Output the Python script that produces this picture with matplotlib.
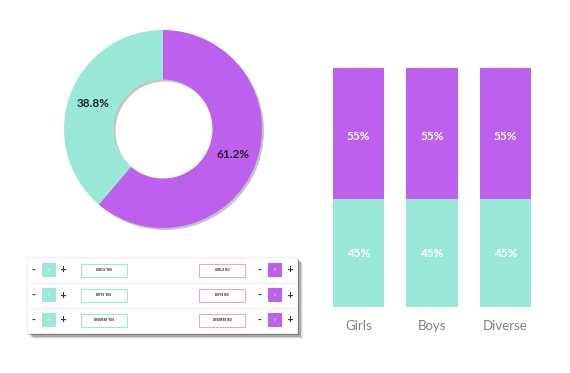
import matplotlib as mpl
mpl.use('Agg')
import matplotlib.pyplot as plt
from matplotlib.patches import Rectangle

# data
pie_labels = ["No", "Yes"]
pie_values = [61.2, 38.8]
categories = ["Girls", "Boys", "Diverse"]
yes_share = [45, 45, 45]
no_share = [55, 55, 55]
row_yes = ["GIRLS YES", "BOYS YES", "DIVERSE YES"]
row_no = ["GIRLS NO", "BOYS NO", "DIVERSE NO"]
row_counts = ["0", "0", "0"]

TEAL = "#99e8d8"
PURPLE = "#be60ee"
W, H = 570, 373

fig = plt.figure(figsize=(5.7, 3.73), dpi=100)
fig.patch.set_facecolor("white")


def px_axes(x0, y0, x1, y1):
    # pixel box (top-left origin) -> figure axes
    return fig.add_axes([x0 / W, 1 - y1 / H, (x1 - x0) / W, (y1 - y0) / H])


# donut (soft shadow first)
cx, cy, r = 163, 129, 99
ax_sh = px_axes(cx - r + 2, cy - r + 2, cx + r + 2, cy + r + 2)
ax_sh.pie(pie_values, startangle=90, counterclock=False,
          colors=["#c4c4c4", "#c4c4c4"], wedgeprops=dict(width=0.5))
ax_sh.set_xlim(-1, 1)
ax_sh.set_ylim(-1, 1)
ax_sh.set_aspect("equal")
ax_sh.patch.set_alpha(0)

ax_pie = px_axes(cx - r, cy - r, cx + r, cy + r)
wedges, texts, autotexts = ax_pie.pie(
    pie_values, startangle=90, counterclock=False, colors=[PURPLE, TEAL],
    autopct="%.1f%%", pctdistance=0.75, wedgeprops=dict(width=0.5),
    textprops=dict(color="#222222", fontsize=8.5, fontweight="bold", family="Lato"))
ax_pie.set_xlim(-1, 1)
ax_pie.set_ylim(-1, 1)
ax_pie.set_aspect("equal")
ax_pie.patch.set_alpha(0)

# stacked bars
ax_bar = px_axes(321.75, 68, 542.25, 307)
x = range(len(categories))
b1 = ax_bar.bar(x, yes_share, width=0.694, color=TEAL)
b2 = ax_bar.bar(x, no_share, width=0.694, bottom=yes_share, color=PURPLE)
for i in x:
    ax_bar.text(i, yes_share[i] / 2, f"{yes_share[i]}%", ha="center", va="center",
                color="white", fontsize=8.5, fontweight="bold", family="Lato")
    ax_bar.text(i, yes_share[i] + no_share[i] / 2 - 1, f"{no_share[i]}%", ha="center",
                va="center", color="white", fontsize=8.5, fontweight="bold", family="Lato")
ax_bar.set_xlim(-0.5, 2.5)
ax_bar.set_ylim(0, 100)
ax_bar.set_xticks(list(x))
ax_bar.set_xticklabels(categories, color="#7a7f8c", fontsize=9.5, family="Lato")
ax_bar.tick_params(axis="x", length=0, pad=9)
ax_bar.set_yticks([])
for s in ax_bar.spines.values():
    s.set_visible(False)
ax_bar.patch.set_alpha(0)

# input table panel
ov = fig.add_axes([0, 0, 1, 1], zorder=-1)
ov.set_xlim(0, W)
ov.set_ylim(H, 0)
ov.axis("off")
for k, a in enumerate([0.08, 0.15, 0.3, 0.5]):
    d = 6 - k * 1.2
    ov.add_patch(Rectangle((27 + d, 257 + d), 270, 76, color="#444444", alpha=a, lw=0))
ov.add_patch(Rectangle((27, 257), 270, 76, facecolor="white", edgecolor="#eeeeee", lw=0.8))

row_y = [270, 295, 320]
for i, yy in enumerate(row_y):
    if i > 0:
        ov.plot([29, 295], [yy - 12.5, yy - 12.5], color="#eeeeee", lw=0.8)
    ov.text(33, yy, "-", ha="center", va="center", fontsize=6, fontweight="bold", color="#333333")
    ov.add_patch(Rectangle((42, yy - 7), 14, 14, color=TEAL, lw=0))
    ov.text(49, yy, row_counts[i], ha="center", va="center", fontsize=2.2, color="white")
    ov.text(63, yy, "+", ha="center", va="center", fontsize=6, fontweight="bold", color="#333333")
    ov.add_patch(Rectangle((81, yy - 6.5), 46, 13, facecolor="white", edgecolor=TEAL, lw=0.8))
    ov.text(104, yy, row_yes[i], ha="center", va="center", fontsize=2, fontweight="bold",
            color="#333333")
    ov.add_patch(Rectangle((199, yy - 6.5), 46, 13, facecolor="white", edgecolor="#dda6f6", lw=0.8))
    ov.text(222, yy, row_no[i], ha="center", va="center", fontsize=2, fontweight="bold",
            color="#333333")
    ov.text(259, yy, "-", ha="center", va="center", fontsize=6, fontweight="bold", color="#333333")
    ov.add_patch(Rectangle((268, yy - 7), 14, 14, color=PURPLE, lw=0))
    ov.text(275, yy, row_counts[i], ha="center", va="center", fontsize=2.2, color="white")
    ov.text(290, yy, "+", ha="center", va="center", fontsize=6, fontweight="bold", color="#333333")

fig.savefig("out.png", dpi=100)
